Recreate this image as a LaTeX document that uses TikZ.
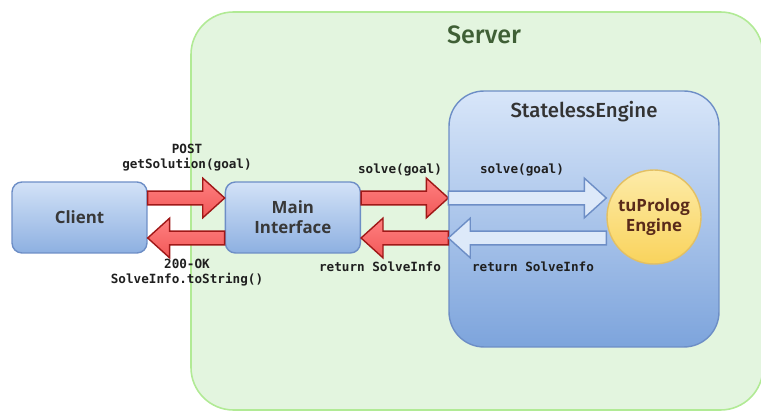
\documentclass[tikz,border=0pt]{standalone}
\usepackage{fontspec}
\setmainfont{Open Sans}
\newfontfamily\titlefont{Fira Sans Medium}
\newfontfamily\codefont{DejaVu Sans Mono}
\usetikzlibrary{positioning,calc}

\definecolor{serverfill}{HTML}{E3F5DF}
\definecolor{serverline}{HTML}{B1EA95}
\definecolor{servertext}{HTML}{3F5F35}
\definecolor{boxtop}{HTML}{D3E2F7}
\definecolor{boxbottom}{HTML}{8DB0E1}
\definecolor{boxline}{HTML}{6D8EC6}
\definecolor{sltop}{HTML}{D8E6F9}
\definecolor{slbottom}{HTML}{7DA4DC}
\definecolor{redfill}{HTML}{F15858}
\definecolor{redtop}{HTML}{FF8080}
\definecolor{redline}{HTML}{A01818}
\definecolor{paleblue}{HTML}{DDE9F9}
\definecolor{prologtop}{HTML}{FDEBA8}
\definecolor{prologbottom}{HTML}{F9D35C}
\definecolor{prologline}{HTML}{E3C063}
\definecolor{prologtext}{HTML}{5A2A1A}

\tikzset{
    server/.style={draw=serverline, fill=serverfill, line width=0.9pt, rounded corners=0.85cm},
    servertitle/.style={font=\titlefont\fontsize{14.3}{16}\selectfont, text=servertext},
    box/.style={draw=boxline, line width=0.8pt, rounded corners=0.2cm, top color=boxtop, bottom color=boxbottom,
        minimum width=2.7cm, minimum height=1.42cm, align=center, text=black!78,
        font=\bfseries\fontsize{9.6}{11.5}\selectfont},
    slbox/.style={draw=boxline, line width=0.8pt, rounded corners=0.7cm, top color=sltop, bottom color=slbottom,
        minimum width=5.4cm, minimum height=5.12cm},
    sltitle/.style={font=\titlefont\fontsize{11.6}{13}\selectfont, text=black!80},
    prolog/.style={circle, draw=prologline, line width=0.8pt, top color=prologtop, bottom color=prologbottom,
        minimum size=1.88cm, inner sep=0pt, align=center, text=prologtext,
        font=\bfseries\fontsize{9.6}{11.5}\selectfont},
    redarrow/.style={draw=redline, line width=0.8pt, top color=redtop, bottom color=redfill},
    palearrow/.style={draw=boxline, line width=0.8pt, fill=paleblue},
    code/.style={font=\codefont\bfseries\fontsize{7.2}{8.6}\selectfont, align=center, text=black!88}
}

\newcommand\fatarrow[3]{%
    \path[#1] let \p1=(#2), \p2=(#3), \n1={12.5*sign(\x2-\x1)} in
        (\x1,{\y1+3.9pt}) -- ({\x2-(\n1)*1pt},{\y1+3.9pt}) -- ({\x2-(\n1)*1pt},{\y1+11.3pt})
        -- (\x2,\y1) -- ({\x2-(\n1)*1pt},{\y1-11.3pt}) -- ({\x2-(\n1)*1pt},{\y1-3.9pt})
        -- (\x1,{\y1-3.9pt}) -- cycle;}

\begin{document}
\begin{tikzpicture}[x=0.02cm, y=-0.02cm]
    \clip (0,0) rectangle (761,411);
    \draw[server] (191,12) rectangle (763,410);
    \node[servertitle] (server) at (484,35) {Server};

    \node[box] (client) at (79.5,217.5) {Client};
    \node[box, right=1.54cm of client] (main) {Main\\Interface};
    \node[slbox] (stateless) at (584,219) {};
    \node[sltitle, below=0.1cm of stateless.north] (sltext) {StatelessEngine};
    \node[prolog] (engine) at (654,217) {tuProlog\\Engine};

    \coordinate (up) at (0,198);
    \coordinate (down) at (0,238);

    \fatarrow{redarrow}{client.east |- up}{main.west |- up}
    \fatarrow{redarrow}{main.west |- down}{client.east |- down}
    \fatarrow{redarrow}{main.east |- up}{stateless.west |- up}
    \fatarrow{redarrow}{stateless.west |- down}{main.east |- down}
    \fatarrow{palearrow}{stateless.west |- up}{engine.west |- up}
    \fatarrow{palearrow}{engine.west |- down}{stateless.west |- down}

    \node[code] (post) at (187,158) {POST\\getSolution(goal)};
    \node[code] (ok) at (187,273) {200-OK\\SolveInfo.toString()};
    \node[code] (solve) at (400,170) {solve(goal)};
    \node[code] (ret) at (380,267) {return SolveInfo};
    \node[code] (solvein) at (522,170) {solve(goal)};
    \node[code] (retin) at (533,267) {return SolveInfo};
\end{tikzpicture}
\end{document}
